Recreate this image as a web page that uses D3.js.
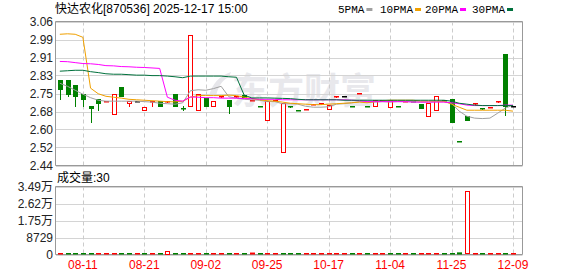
<!DOCTYPE html>
<html>
<head>
<meta charset="utf-8">
<script src="https://cdn.jsdelivr.net/npm/d3@7/dist/d3.min.js"></script>
<style>
    body { margin: 0; background: #fff; }
    svg { display: block; }
    text { font-family: "Liberation Sans", Arial, "Noto Sans CJK SC", sans-serif; }
</style>
</head>
<body>
<svg id="klineSvg" width="578" height="276"></svg>
<script>
// 日K数据 (按交易日顺序)
var openP  = [2.807,2.807,2.786,2.748,2.695,2.725,2.716,2.660,2.777,2.711,2.717,2.681,2.714,2.717,2.715,2.747,2.688,2.698,2.681,2.730,
              2.698,2.737,2.721,2.737,2.744,2.720,2.696,2.638,2.723,2.496,2.695,2.678,2.684,2.703,2.706,2.683,2.737,2.738,2.696,2.753,
              2.696,2.698,2.721,2.690,2.696,2.717,2.717,2.704,2.651,2.681,2.721,2.725,2.546,2.655,2.706,2.686,2.690,2.715,2.919,2.698];
var highP  = [2.807,2.807,2.786,2.748,2.695,2.725,2.717,2.747,2.777,2.717,2.717,2.694,2.717,2.717,2.718,2.747,2.695,3.000,2.747,2.730,
              2.716,2.738,2.721,2.738,2.744,2.721,2.696,2.716,2.724,2.710,2.695,2.678,2.685,2.704,2.707,2.700,2.738,2.738,2.696,2.754,
              2.696,2.721,2.721,2.721,2.696,2.718,2.717,2.704,2.707,2.738,2.721,2.725,2.546,2.655,2.707,2.686,2.691,2.716,2.919,2.698];
var lowP   = [2.725,2.738,2.697,2.697,2.628,2.678,2.716,2.660,2.738,2.697,2.717,2.681,2.697,2.698,2.715,2.698,2.678,2.698,2.681,2.698,
              2.698,2.737,2.668,2.737,2.733,2.720,2.695,2.638,2.723,2.496,2.694,2.677,2.684,2.703,2.706,2.683,2.737,2.738,2.695,2.753,
              2.695,2.698,2.721,2.690,2.695,2.717,2.716,2.688,2.651,2.681,2.720,2.628,2.545,2.635,2.706,2.685,2.690,2.715,2.658,2.698];
var closeP = [2.770,2.748,2.740,2.727,2.688,2.711,2.717,2.747,2.738,2.717,2.717,2.694,2.717,2.698,2.718,2.698,2.687,3.000,2.747,2.698,
              2.716,2.738,2.698,2.738,2.733,2.721,2.695,2.716,2.724,2.710,2.694,2.677,2.685,2.704,2.707,2.700,2.738,2.738,2.695,2.754,
              2.695,2.721,2.721,2.721,2.695,2.718,2.716,2.688,2.707,2.738,2.720,2.628,2.545,2.635,2.707,2.685,2.691,2.716,2.698,2.698];

// 均线
var ma5  = [2.794,2.781,2.764,2.747,2.732,2.721,2.717,2.717,2.717,2.717,2.717,2.715,2.713,2.708,2.706,2.704,2.710,2.762,2.766,2.764,
            2.771,2.781,2.736,2.730,2.725,2.723,2.721,2.715,2.715,2.706,2.706,2.704,2.695,2.691,2.691,2.693,2.704,2.706,2.710,2.715,
            2.713,2.713,2.715,2.713,2.715,2.715,2.715,2.713,2.713,2.715,2.715,2.708,2.674,2.652,2.644,2.642,2.644,2.665,2.687,2.700];
var ma10 = [3.005,3.007,3.005,2.992,2.773,2.749,2.738,2.734,2.730,2.725,2.723,2.721,2.719,2.717,2.715,2.714,2.717,2.734,2.741,2.741,
            2.741,2.741,2.743,2.741,2.734,2.728,2.723,2.719,2.717,2.713,2.708,2.706,2.704,2.702,2.702,2.704,2.706,2.708,2.710,2.713,
            2.710,2.715,2.719,2.721,2.721,2.721,2.721,2.717,2.717,2.717,2.717,2.704,2.691,2.678,2.678,2.678,2.678,2.678,2.678,2.674];
var ma20 = [2.888,2.887,2.883,2.879,2.878,2.875,2.870,2.869,2.866,2.865,2.863,2.862,2.860,2.858,2.734,2.721,2.717,2.735,2.734,2.732,
            2.732,2.730,2.730,2.730,2.728,2.728,2.725,2.725,2.725,2.723,2.723,2.723,2.723,2.723,2.723,2.723,2.723,2.723,2.721,2.719,
            2.715,2.715,2.715,2.715,2.715,2.715,2.713,2.713,2.713,2.713,2.713,2.710,2.706,2.700,2.698,2.698,2.698,2.698,2.700,2.700];
var ma30 = [2.846,2.848,2.850,2.850,2.844,2.840,2.835,2.833,2.833,2.831,2.829,2.829,2.827,2.827,2.825,2.822,2.818,2.825,2.825,2.825,
            2.825,2.825,2.822,2.820,2.743,2.731,2.731,2.731,2.730,2.729,2.728,2.725,2.723,2.723,2.723,2.723,2.723,2.721,2.721,2.721,
            2.721,2.721,2.721,2.721,2.721,2.721,2.721,2.721,2.721,2.721,2.721,2.717,2.708,2.704,2.700,2.698,2.698,2.698,2.698,2.698];

// 成交量 (股) 及颜色 r=红 g=绿
var volume = [200,300,300,200,400,200,100,300,200,200,100,200,200,300,1800,300,200,500,300,200,
              200,100,300,100,200,1000,100,200,100,300,100,100,100,100,100,200,100,100,100,100,
              100,200,100,200,100,100,100,200,300,300,100,400,1100,32400,100,100,100,100,300,30];
var volDir = ["r","g","g","g","g","r","r","r","g","g","r","g","r","g","r","g","g","r","r","g",
              "r","r","g","r","g","r","g","r","r","g","g","g","r","r","r","r","r","r","g","r",
              "g","r","r","g","g","r","g","r","r","r","g","g","g","r","r","g","r","r","g","r"];

var xTickIdx = [3, 11, 19, 27, 35, 43, 51, 59];
var xTickLabels = ["08-11", "08-21", "09-02", "09-25", "10-17", "11-04", "11-25", "12-09"];
var priceTicks = [2.44, 2.5175, 2.595, 2.6725, 2.75, 2.8275, 2.905, 2.9825, 3.06];
var priceLabels = ["2.44", "2.52", "2.60", "2.68", "2.75", "2.83", "2.91", "2.99", "3.06"];
var volTicks = [0, 8729, 17458, 26187, 34916];
var volLabels = ["0", "8729", "1.75万", "2.62万", "3.49万"];
var maNames = ["5PMA", "10PMA", "20PMA", "30PMA"];
var maColors = ["#a0a0a0", "#f0a000", "#ff00ff", "#00703c"];

var RED = "#ff0000", GREEN = "#008000";

var svg = d3.select("#klineSvg");
var left = 56, right = 522.5;
var mainTop = 21.5, mainBot = 165.5, volTop = 186.5, volBot = 254.5;

var x = d3.scaleBand().domain(d3.range(closeP.length)).range([left, left + 7.68 * closeP.length]);
var y = d3.scaleLinear().domain([2.44, 3.06]).range([mainBot, mainTop]);
var yv = d3.scaleLinear().domain([0, 34916]).range([volBot, volTop]);
function cx(i) { return Math.round(x(i) + x.bandwidth() / 2) + 0.5; }

// 水印
svg.append("path")
    .attr("d", "M209,96 C212,84 219,76 231,72 L229,77 C222,80 218,87 216,96 Z")
    .attr("fill", "#e6e6ea");
svg.append("text").attr("x", 232).attr("y", 104)
    .attr("font-size", 36).attr("font-weight", "bold")
    .style("font-family", "'Noto Sans CJK SC', sans-serif")
    .attr("fill", "#e8e8ec").text("东方财富");

// 网格
function drawGrid(top, bot, ticks, scale) {
    var g = svg.append("g");
    g.selectAll("line.h").data(ticks).enter().append("line")
        .attr("x1", left).attr("x2", right)
        .attr("y1", function (d) { return Math.round(scale(d)) + 0.5; })
        .attr("y2", function (d) { return Math.round(scale(d)) + 0.5; })
        .attr("stroke", "#d4d4d4");
    g.selectAll("line.v").data(xTickIdx).enter().append("line")
        .attr("x1", function (d) { return cx(d); }).attr("x2", function (d) { return cx(d); })
        .attr("y1", top).attr("y2", bot)
        .attr("stroke", "#cccccc").attr("stroke-dasharray", "4,3");
    g.append("path")
        .attr("d", "M" + (left - 0.5) + "," + bot + "V" + top + "H" + right + "V" + bot + "H" + (left - 0.5))
        .attr("fill", "none").attr("stroke", "#999");
}
drawGrid(mainTop, mainBot, priceTicks, y);
drawGrid(volTop, volBot, volTicks, yv);

// 坐标轴
var yAxis = d3.axisLeft(y).tickValues(priceTicks)
    .tickFormat(function (d, i) { return priceLabels[i]; }).tickSize(0).tickPadding(3);
var gy = svg.append("g").attr("transform", "translate(" + left + ",0)").call(yAxis);
var vAxis = d3.axisLeft(yv).tickValues(volTicks)
    .tickFormat(function (d, i) { return volLabels[i]; }).tickSize(0).tickPadding(3);
var gv = svg.append("g").attr("transform", "translate(" + left + ",0)").call(vAxis);
var xAxis = d3.axisBottom(x).tickValues(xTickIdx)
    .tickFormat(function (d, i) { return xTickLabels[i]; }).tickSize(0).tickPadding(6);
var gx = svg.append("g").attr("transform", "translate(0," + volBot + ")").call(xAxis);
[gy, gv, gx].forEach(function (g) {
    g.select(".domain").remove();
    g.attr("font-size", 12).attr("font-family", null);
});
gy.selectAll("text").attr("fill", "#222");
gv.selectAll("text").attr("fill", "#222");
gx.selectAll("text").attr("fill", RED);

// K线
var kg = svg.append("g");
closeP.forEach(function (c, i) {
    var o = openP[i];
    var color = c > o ? RED : (c < o ? GREEN : "#000");
    var xc = cx(i);
    var yTop = Math.round(y(Math.max(o, c))), yBot = Math.round(y(Math.min(o, c)));
    kg.append("line").attr("x1", xc).attr("x2", xc)
        .attr("y1", Math.round(y(highP[i]))).attr("y2", Math.round(y(lowP[i])) + 1)
        .attr("stroke", color);
    if (yBot - yTop < 2) {
        kg.append("rect").attr("x", xc - 2.5).attr("width", 5)
            .attr("y", yTop).attr("height", Math.max(yBot - yTop, 1) + 0.5).attr("fill", color);
    } else if (c > o) {
        kg.append("rect").attr("x", xc - 2).attr("width", 4)
            .attr("y", yTop + 0.5).attr("height", yBot - yTop)
            .attr("fill", "#fff").attr("stroke", RED);
    } else {
        kg.append("rect").attr("x", xc - 2.5).attr("width", 5)
            .attr("y", yTop).attr("height", yBot - yTop + 1).attr("fill", color);
    }
});

// 均线
var line = d3.line()
    .x(function (d, i) { return x(i) + x.bandwidth() / 2; })
    .y(function (d) { return y(d); });
[ma5, ma10, ma20, ma30].forEach(function (arr, k) {
    svg.append("path").datum(arr).attr("d", line)
        .attr("fill", "none").attr("stroke", maColors[k]).attr("stroke-width", 1);
});

// 成交量
var vg = svg.append("g");
volume.forEach(function (v, i) {
    var xc = cx(i);
    var h = volBot - yv(v);
    var color = volDir[i] === "r" ? RED : GREEN;
    if (volDir[i] === "r" && h > 3) {
        vg.append("rect").attr("x", xc - 2).attr("width", 4)
            .attr("y", Math.round(yv(v)) + 0.5).attr("height", Math.round(h) - 1)
            .attr("fill", "#fff").attr("stroke", RED);
    } else {
        vg.append("rect").attr("x", xc - 2.5).attr("width", 5)
            .attr("y", volBot - Math.max(h, 1.5)).attr("height", Math.max(h, 1.5))
            .attr("fill", color);
    }
});

// 标题与图例
svg.append("text").attr("x", 55).attr("y", 13).attr("font-size", 12).attr("fill", "#000")
    .text("快达农化[870536] 2025-12-17 15:00");
var legX = [338, 380, 425, 472];
maNames.forEach(function (name, k) {
    var t = svg.append("text").attr("x", legX[k]).attr("y", 12.5)
        .attr("font-size", 11).style("font-family", "'Liberation Mono', monospace")
        .attr("fill", "#000").text(name);
    var w = t.node().getComputedTextLength();
    svg.append("rect").attr("x", legX[k] + w + 2).attr("y", 8).attr("width", 6).attr("height", 3)
        .attr("fill", maColors[k]);
});
svg.append("text").attr("x", 57).attr("y", 182).attr("font-size", 12).attr("fill", "#000")
    .text("成交量:" + volume[volume.length - 1]);
</script>
</body>
</html>
